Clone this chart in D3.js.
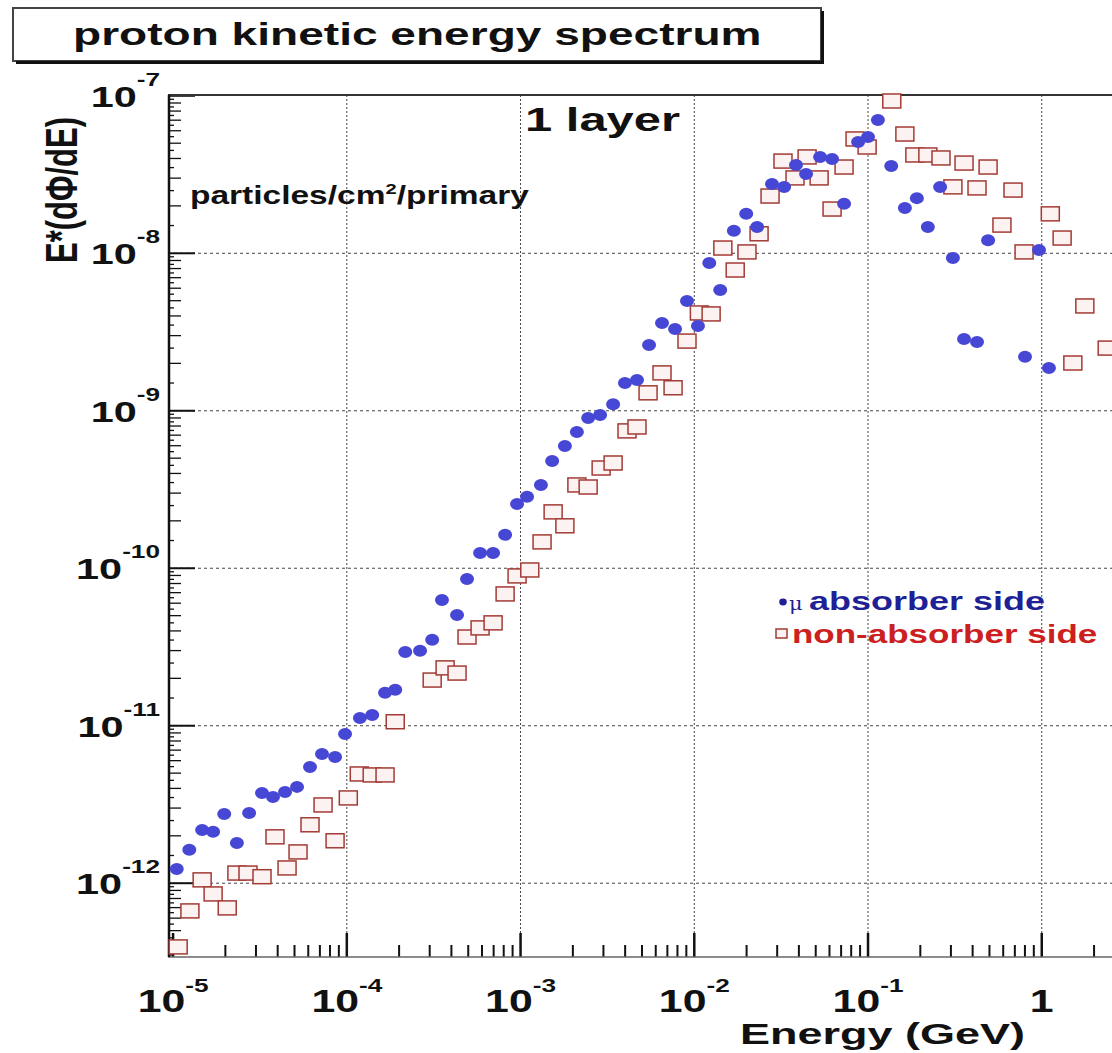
<!DOCTYPE html>
<html><head><meta charset="utf-8">
<script src="https://cdn.jsdelivr.net/npm/d3@7"></script>
<style>body{margin:0;background:#fff}svg{display:block}</style>
</head><body>
<svg id="c" width="1112" height="1053"></svg>
<script>
// ---- data ----
const blueE = [1.05e-5,1.24e-5,1.47e-5,1.70e-5,1.97e-5,2.33e-5,2.74e-5,3.25e-5,3.76e-5,4.41e-5,
  5.17e-5,6.14e-5,7.2e-5,8.56e-5,9.77e-5,1.19e-4,1.40e-4,1.66e-4,1.90e-4,2.17e-4,
  2.64e-4,3.10e-4,3.53e-4,4.31e-4,4.92e-4,5.85e-4,6.95e-4,8.15e-4,9.55e-4,1.09e-3,
  1.31e-3,1.52e-3,1.80e-3,2.11e-3,2.45e-3,2.87e-3,3.41e-3,3.99e-3,4.68e-3,5.49e-3,
  6.52e-3,7.75e-3,9.08e-3,1.05e-2,1.22e-2,1.41e-2,1.69e-2,1.99e-2,2.30e-2,2.80e-2,
  3.29e-2,3.85e-2,4.40e-2,5.30e-2,6.21e-2,7.28e-2,8.77e-2,0.100,0.114,0.136,
  0.163,0.191,0.221,0.260,0.308,0.357,0.424,0.491,0.801,0.964,1.10];
const blueFlux = [1.23e-12,1.63e-12,2.18e-12,2.12e-12,2.75e-12,1.80e-12,2.79e-12,3.74e-12,3.53e-12,3.80e-12,
  4.09e-12,5.47e-12,6.62e-12,6.34e-12,8.87e-12,1.12e-11,1.17e-11,1.62e-11,1.69e-11,2.94e-11,
  2.99e-11,3.51e-11,6.29e-11,5.05e-11,8.55e-11,1.25e-10,1.25e-10,1.63e-10,2.56e-10,2.84e-10,
  3.38e-10,4.80e-10,5.98e-10,7.33e-10,9.0e-10,9.4e-10,1.10e-9,1.50e-9,1.57e-9,2.62e-9,
  3.61e-9,3.31e-9,4.98e-9,3.45e-9,8.67e-9,5.85e-9,1.39e-8,1.78e-8,1.47e-8,2.75e-8,
  2.64e-8,3.64e-8,3.19e-8,4.09e-8,3.97e-8,2.06e-8,5.09e-8,5.47e-8,7.02e-8,3.58e-8,
  1.94e-8,2.24e-8,1.47e-8,2.64e-8,9.33e-9,2.86e-9,2.73e-9,1.21e-8,2.20e-9,1.05e-8,1.87e-9];
const redE = [1.07e-5,1.25e-5,1.47e-5,1.70e-5,2.05e-5,2.33e-5,2.70e-5,3.25e-5,3.86e-5,4.53e-5,
  5.24e-5,6.14e-5,7.30e-5,8.56e-5,1.02e-4,1.18e-4,1.40e-4,1.66e-4,1.90e-4,3.10e-4,
  3.68e-4,4.31e-4,4.92e-4,5.85e-4,6.95e-4,8.15e-4,9.55e-4,1.13e-3,1.33e-3,1.54e-3,
  1.80e-3,2.11e-3,2.45e-3,2.91e-3,3.41e-3,4.10e-3,4.68e-3,5.42e-3,6.52e-3,7.55e-3,
  9.08e-3,1.07e-2,1.25e-2,1.46e-2,1.72e-2,2.01e-2,2.36e-2,2.73e-2,3.24e-2,3.80e-2,
  4.46e-2,5.23e-2,6.21e-2,7.28e-2,8.42e-2,9.88e-2,0.137,0.163,0.186,0.221,
  0.263,0.308,0.357,0.424,0.491,0.590,0.683,0.791,1.12,1.31,
  1.51,1.77,2.38];
const redFlux = [3.94e-13,6.67e-13,1.05e-12,8.55e-13,6.97e-13,1.16e-12,1.16e-12,1.10e-12,1.97e-12,1.25e-12,
  1.58e-12,2.35e-12,3.14e-12,1.86e-12,3.48e-12,4.94e-12,4.87e-12,4.87e-12,1.06e-11,1.95e-11,
  2.33e-11,2.16e-11,3.66e-11,4.18e-11,4.50e-11,6.87e-11,8.94e-11,9.75e-11,1.47e-10,2.28e-10,
  1.86e-10,3.38e-10,3.28e-10,4.33e-10,4.66e-10,7.45e-10,7.89e-10,1.30e-9,1.74e-9,1.40e-9,
  2.77e-9,4.18e-9,4.12e-9,1.08e-8,7.83e-9,1.02e-8,1.33e-8,2.31e-8,3.85e-8,3.01e-8,
  4.09e-8,3.01e-8,1.91e-8,3.53e-8,5.32e-8,4.73e-8,9.27e-8,5.72e-8,4.21e-8,4.21e-8,
  4.03e-8,2.64e-8,3.74e-8,2.60e-8,3.53e-8,1.51e-8,2.52e-8,1.02e-8,1.78e-8,1.25e-8,
  2.01e-9,4.63e-9,2.50e-9];
const xTickExps = [-5,-4,-3,-2,-1,0];
const yTickExps = [-12,-11,-10,-9,-8,-7];
const titleText = "proton kinetic energy spectrum";
const seriesNames = ["absorber side","non-absorber side"];

// ---- layout ----
const svg = d3.select("#c");
const FONT = "'Liberation Sans', Arial, Helvetica, sans-serif";
const L = 168, T = 95, B = 957;
const x = d3.scaleLog().domain([9.35e-6, 10]).range([L, 1215.5]);
const y = d3.scaleLog().domain([3.4e-13, 1e-7]).range([B, 95.8]);

// grid
const gGrid = svg.append("g");
xTickExps.slice(1).forEach(e => {
  const xx = x(Math.pow(10, e));
  gGrid.append("line").attr("x1", xx).attr("x2", xx).attr("y1", T).attr("y2", B)
    .attr("stroke", "#444").attr("stroke-width", 1).attr("stroke-dasharray", "2,2");
});
yTickExps.slice(0, -1).forEach(e => {
  const yy = y(Math.pow(10, e));
  gGrid.append("line").attr("x1", L).attr("x2", 1112).attr("y1", yy).attr("y2", yy)
    .attr("stroke", "#444").attr("stroke-width", 1).attr("stroke-dasharray", "3,3");
});

// x ticks (inside, upward from bottom)
const gAx = svg.append("g");
for (let e = -6; e <= 1; e++) {
  for (let m = 1; m <= 9; m++) {
    const v = m * Math.pow(10, e);
    if (v < x.domain()[0] || v > x.domain()[1]) continue;
    const xx = x(v), len = m === 1 ? 24 : 12;
    gAx.append("line").attr("x1", xx).attr("x2", xx).attr("y1", B).attr("y2", B - len)
      .attr("stroke", "#111").attr("stroke-width", m === 1 ? 2.5 : 2);
  }
}
// y ticks (inside, rightward from left)
for (let e = -13; e <= -7; e++) {
  for (let m = 1; m <= 9.5; m += 0.5) {
    const v = m * Math.pow(10, e);
    if (v < y.domain()[0] || v > y.domain()[1]) continue;
    const yy = y(v);
    const len = m === 1 ? 27 : (Number.isInteger(m) ? 13 : 6);
    gAx.append("line").attr("x1", L).attr("x2", L + len).attr("y1", yy).attr("y2", yy)
      .attr("stroke", "#111").attr("stroke-width", m === 1 ? 2 : 1.3);
  }
}
// frame
svg.append("line").attr("x1", L).attr("x2", 1112).attr("y1", B).attr("y2", B).attr("stroke", "#666").attr("stroke-width", 1.5);
svg.append("line").attr("x1", L).attr("x2", 1112).attr("y1", T).attr("y2", T).attr("stroke", "#333").attr("stroke-width", 2);
svg.append("line").attr("x1", L + 1).attr("x2", L + 1).attr("y1", T).attr("y2", B).attr("stroke", "#111").attr("stroke-width", 2.5);

// data: red squares
svg.append("g").selectAll("rect").data(redE.map((e, i) => [e, redFlux[i]])).join("rect")
  .attr("x", d => x(d[0]) - 9).attr("y", d => y(d[1]) - 7)
  .attr("width", 18).attr("height", 14)
  .attr("fill", "#fdf2f2").attr("stroke", "#a33b35").attr("stroke-width", 1.5);
// data: blue dots
svg.append("g").selectAll("ellipse").data(blueE.map((e, i) => [e, blueFlux[i]])).join("ellipse")
  .attr("cx", d => x(d[0])).attr("cy", d => y(d[1]))
  .attr("rx", 7).attr("ry", 6).attr("fill", "#4747d6");

// helper for stretched text
function stext(px, py, sx, size, anchor) {
  return svg.append("text").attr("transform", `translate(${px},${py}) scale(${sx},1)`)
    .attr("font-family", FONT).attr("font-weight", "bold").attr("font-size", size)
    .attr("text-anchor", anchor || "start").attr("fill", "#111");
}

// y tick labels
yTickExps.forEach(e => {
  const t = stext(160, y(Math.pow(10, e)) + 11, 1.38, 30, "end");
  t.append("tspan").text("10");
  t.append("tspan").attr("font-size", 19).attr("dy", -21).text(String(e));
});
// x tick labels
xTickExps.forEach(e => {
  const t = stext(x(Math.pow(10, e)), 1012, 1.38, 31, "middle");
  if (e === 0) { t.append("tspan").text("1"); }
  else {
    t.append("tspan").text("10");
    t.append("tspan").attr("font-size", 19).attr("dy", -20).text(String(e));
  }
});

// axis titles
stext(740, 1044, 1.5, 30).text("Energy (GeV)");
svg.append("text").attr("transform", "translate(77,117) scale(1.45,1) rotate(-90)")
  .attr("font-family", FONT).attr("font-weight", "bold").attr("font-size", 31)
  .attr("text-anchor", "end").attr("fill", "#111").text("E*(dΦ/dE)");

// title box
svg.append("rect").attr("x", 13).attr("y", 8).attr("width", 808).attr("height", 53)
  .attr("fill", "#fff").attr("stroke", "#444").attr("stroke-width", 2);
svg.append("rect").attr("x", 821).attr("y", 11).attr("width", 3).attr("height", 53).attr("fill", "#111");
svg.append("rect").attr("x", 16).attr("y", 61).attr("width", 808).attr("height", 3).attr("fill", "#111");
stext(73, 45, 1.44, 32).text(titleText);

// annotations
stext(525, 131, 1.44, 34).text("1 layer");
const pt = stext(190, 204, 1.34, 25);
pt.append("tspan").text("particles/cm");
pt.append("tspan").attr("font-size", 15).attr("dy", -10).text("2");
pt.append("tspan").attr("dy", 10).text("/primary");

// legend
svg.append("ellipse").attr("cx", 783).attr("cy", 602).attr("rx", 3.8).attr("ry", 3.4).attr("fill", "#1f1f96");
svg.append("text").attr("transform", "translate(789,610) scale(1.1,1)").attr("font-family", "'DejaVu Serif', serif")
  .attr("font-size", 19).attr("fill", "#1f1f96").text("μ");
stext(809, 610, 1.44, 25).attr("fill", "#1f1f96").text(seriesNames[0]);
svg.append("rect").attr("x", 776).attr("y", 629).attr("width", 11).attr("height", 9)
  .attr("fill", "#fdf2f2").attr("stroke", "#a33b35").attr("stroke-width", 1.5);
stext(792, 643, 1.40, 25).attr("fill", "#cc2020").text(seriesNames[1]);
</script>
</body></html>
